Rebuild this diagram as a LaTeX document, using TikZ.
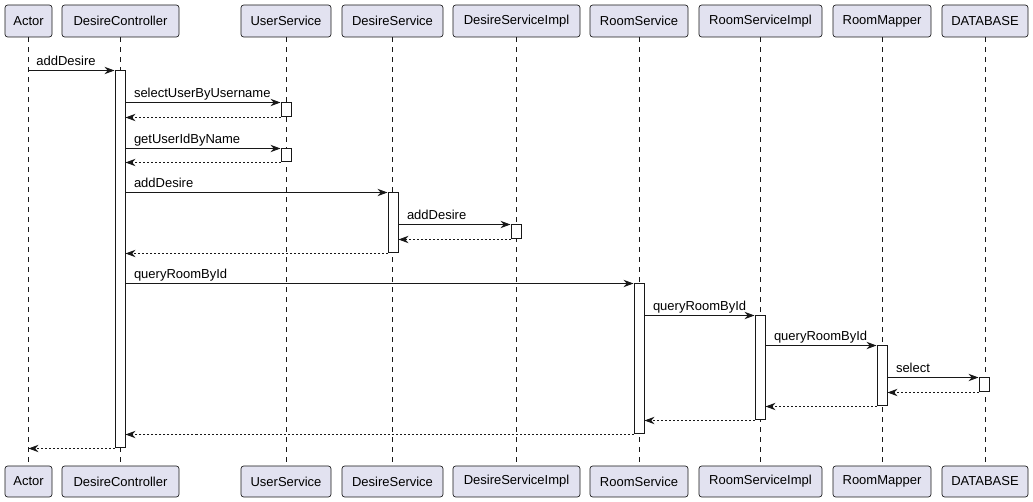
\documentclass[tikz,border=0pt]{standalone}
\usepackage{fontspec}
\setmainfont{Liberation Sans}
\usetikzlibrary{arrows.meta,fit}
\definecolor{pbox}{HTML}{E2E2F0}
\definecolor{pline}{HTML}{181818}
\tikzset{
  part/.style={draw=pline, line width=0.5pt, fill=pbox, rounded corners=2pt, inner sep=0pt},
  ptext/.style={font=\fontsize{9.75pt}{11pt}\selectfont, text=black},
  lifeline/.style={draw=pline, line width=0.5pt, dash pattern=on 3.75pt off 3.75pt},
  actbox/.style={draw=pline, line width=0.75pt, fill=white, inner sep=0pt},
  msg/.style={draw=pline, line width=0.75pt, -{Stealth[length=7.5pt, width=5.5pt, inset=2.4pt]}},
  ret/.style={draw=pline, line width=0.75pt, dash pattern=on 1.5pt off 1.5pt, -{Stealth[length=7.5pt, width=5.5pt, inset=2.4pt]}},
  mlabel/.style={font=\fontsize{9.75pt}{11pt}\selectfont, anchor=base west, inner sep=0pt, text=black},
}
\begin{document}
\begin{tikzpicture}[x=0.75pt, y=-0.75pt]
\useasboundingbox (0,0) rectangle (1033,502);
% participants: name / left / right / lifeline x
\foreach \n/\l/\r/\t in {A/5/52/Actor, DC/62/179/DesireController, US/241/331/UserService, DS/342/443/DesireService, DSI/453/580/DesireServiceImpl, RS/590/688/RoomService, RSI/699/822/RoomServiceImpl, RM/833/931/RoomMapper, DB/942/1028/DATABASE}{
  \node[part, fit={(\l,5)(\r,37)}, label={[ptext]center:\t}] (t\n) {};
  \node[part, fit={(\l,466)(\r,497)}, label={[ptext]center:\t}] (b\n) {};
}
% lifelines
\foreach \n in {A,DC,US,DS,DSI,RS,RSI,RM,DB}{
  \draw[lifeline] (t\n.south) -- (b\n.north);
}
% activations
\node[actbox, fit={(115,71)(125,448)}] (aDC) {};
\node[actbox, fit={(281,103)(291,117)}] (aUS1) {};
\node[actbox, fit={(281,149)(291,162)}] (aUS2) {};
\node[actbox, fit={(388,193)(398,253)}] (aDS) {};
\node[actbox, fit={(511,225)(521,239)}] (aDSI) {};
\node[actbox, fit={(634,284)(644,434)}] (aRS) {};
\node[actbox, fit={(755,316)(765,420)}] (aRSI) {};
\node[actbox, fit={(877,346)(887,406)}] (aRM) {};
\node[actbox, fit={(979,378)(989,392)}] (aDB) {};
% messages
\draw[msg] (tA.south |- aDC.north west) -- node[pos=0, mlabel, xshift=5.5pt, yshift=3.8pt] {addDesire} (aDC.north west);
\draw[msg] (aDC.east |- aUS1.north west) -- node[pos=0, mlabel, xshift=6pt, yshift=3.8pt] {selectUserByUsername} (aUS1.north west);
\draw[ret] (aUS1.south west) -- (aDC.east |- aUS1.south west);
\draw[msg] (aDC.east |- aUS2.north west) -- node[pos=0, mlabel, xshift=6pt, yshift=3.8pt] {getUserIdByName} (aUS2.north west);
\draw[ret] (aUS2.south west) -- (aDC.east |- aUS2.south west);
\draw[msg] (aDC.east |- aDS.north west) -- node[pos=0, mlabel, xshift=6pt, yshift=3.8pt] {addDesire} (aDS.north west);
\draw[msg] (aDS.east |- aDSI.north west) -- node[pos=0, mlabel, xshift=6pt, yshift=3.8pt] {addDesire} (aDSI.north west);
\draw[ret] (aDSI.south west) -- (aDS.east |- aDSI.south west);
\draw[ret] (aDS.south west) -- (aDC.east |- aDS.south west);
\draw[msg] (aDC.east |- aRS.north west) -- node[pos=0, mlabel, xshift=6pt, yshift=3.8pt] {queryRoomById} (aRS.north west);
\draw[msg] (aRS.east |- aRSI.north west) -- node[pos=0, mlabel, xshift=6pt, yshift=3.8pt] {queryRoomById} (aRSI.north west);
\draw[msg] (aRSI.east |- aRM.north west) -- node[pos=0, mlabel, xshift=6pt, yshift=3.8pt] {queryRoomById} (aRM.north west);
\draw[msg] (aRM.east |- aDB.north west) -- node[pos=0, mlabel, xshift=6pt, yshift=3.8pt] {select} (aDB.north west);
\draw[ret] (aDB.south west) -- (aRM.east |- aDB.south west);
\draw[ret] (aRM.south west) -- (aRSI.east |- aRM.south west);
\draw[ret] (aRSI.south west) -- (aRS.east |- aRSI.south west);
\draw[ret] (aRS.south west) -- (aDC.east |- aRS.south west);
\draw[ret] (aDC.south west) -- (tA.south |- aDC.south west);
\end{tikzpicture}
\end{document}
